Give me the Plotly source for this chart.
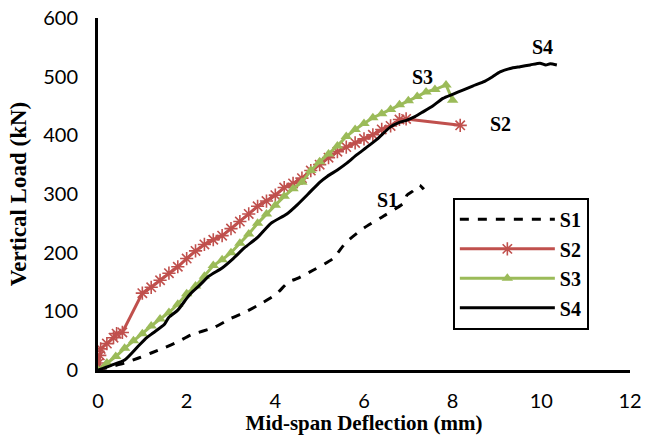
import plotly.graph_objects as go

# ---- data ----
s1_x = [0, 0.3, 0.6, 0.9, 1.2, 1.5, 1.8, 2.1, 2.6, 3.0, 3.3, 3.6, 4.0, 4.3, 4.5, 4.85, 5.3, 5.6, 6.0, 6.5, 6.9, 6.97, 7.1, 7.25, 7.35]
s1_y = [0, 6, 12, 20, 29, 38, 48, 60, 72, 88, 98, 110, 128, 150, 156, 170, 190, 218, 242, 265, 285, 298, 305, 315, 308]

s2_x = [0, 0.02, 0.04, 0.06, 0.2, 0.35, 0.42, 0.55, 1.0, 1.2, 1.4, 1.6, 1.8, 2.0, 2.2, 2.4, 2.6, 2.8, 3.0, 3.2, 3.4, 3.6,
        3.8, 4.0, 4.2, 4.4, 4.6, 4.8, 5.0, 5.2, 5.4, 5.6, 5.8, 6.0, 6.2, 6.4, 6.6, 6.8, 6.95, 8.17]
s2_y = [0, 12, 25, 36, 45, 55, 62, 64, 131, 141, 153, 165, 176, 190, 203, 214, 222, 229, 241, 253, 266, 279,
        288, 298, 311, 318, 327, 340, 350, 362, 372, 380, 387, 394, 401, 410, 416, 427, 428, 417]

s3_x = [0, 0.2, 0.4, 0.6, 0.8, 1.0, 1.2, 1.4, 1.6, 1.8, 2.0, 2.2, 2.4, 2.6, 2.8, 3.0, 3.2, 3.4, 3.6, 3.8, 4.0,
        4.2, 4.4, 4.6, 4.8, 5.0, 5.2, 5.4, 5.6, 5.8, 6.0, 6.2, 6.4, 6.6, 6.8, 7.0, 7.2, 7.4, 7.6, 7.85, 8.0]
s3_y = [0, 12, 23, 37, 50, 62, 75, 87, 98, 112, 130, 143, 160, 178, 188, 200, 216, 232, 250, 266, 281,
        296, 309, 320, 340, 355, 368, 382, 398, 410, 420, 430, 437, 444, 452, 459, 466, 474, 478, 486, 460]

s4_x = [0, 0.3, 0.6, 0.9, 1.1, 1.24, 1.5, 1.6, 1.8, 2.0, 2.1, 2.3, 2.5, 2.8, 3.05, 3.3, 3.6, 3.9, 4.26, 4.5, 4.74,
        5.0, 5.17, 5.4, 5.62, 5.84, 6.05, 6.29, 6.59, 6.8, 6.97, 7.15, 7.33, 7.55, 7.78, 8.0, 8.23, 8.45, 8.69,
        8.9, 9.07, 9.3, 9.52, 9.75, 9.97, 10.1, 10.2, 10.35]
s4_y = [0, 8, 17, 40, 55, 63, 78, 90, 102, 122, 131, 145, 160, 174, 190, 208, 226, 250, 266, 282, 300,
        320, 330, 341, 353, 367, 379, 393, 414, 422, 426, 432, 440, 450, 463, 470, 477, 484, 491,
        500, 508, 514, 517, 520, 523, 520, 522, 520]

x_ticks = [0, 2, 4, 6, 8, 10, 12]
y_ticks = [0, 100, 200, 300, 400, 500, 600]

labels = ["S1", "S2", "S3", "S4"]
label_x = [6.54, 9.09, 7.33, 10.02]
label_y = [290, 419, 499, 551]

RED = "#C0504D"
GREEN = "#9BBB59"
SERIF = "Liberation Serif"

fig = go.Figure()
fig.add_trace(go.Scatter(x=s1_x, y=s1_y, name="S1", mode="lines", legendgroup="g1",
                         line=dict(color="black", width=3, dash="dash", shape="spline", smoothing=0.6)))
fig.add_trace(go.Scatter(x=s2_x, y=s2_y, name="S2", mode="lines+markers", legendgroup="g2",
                         line=dict(color=RED, width=3),
                         marker=dict(symbol="asterisk-open", size=11, color=RED,
                                     line=dict(color=RED, width=1.6))))
fig.add_trace(go.Scatter(x=s3_x, y=s3_y, name="S3", mode="lines+markers", legendgroup="g3",
                         line=dict(color=GREEN, width=3),
                         marker=dict(symbol="triangle-up", size=10, color=GREEN)))
fig.add_trace(go.Scatter(x=s4_x, y=s4_y, name="S4", mode="lines", legendgroup="g4",
                         line=dict(color="black", width=3, shape="spline", smoothing=0.6)))

for t, lx, ly in zip(labels, label_x, label_y):
    fig.add_annotation(x=lx, y=ly, text=t, showarrow=False,
                       font=dict(family=SERIF, size=20, color="black", weight="bold"))

fig.update_layout(
    width=660, height=435,
    margin=dict(l=98, r=30, t=18, b=65),
    plot_bgcolor="white", paper_bgcolor="white",
    showlegend=True,
    legend=dict(x=0.667, y=0.489, xanchor="left", yanchor="top",
                bgcolor="white", bordercolor="black", borderwidth=2,
                font=dict(family=SERIF, size=20, color="black", weight="bold"),
                tracegroupgap=0.5, itemwidth=95),
    xaxis=dict(range=[0, 12], tickvals=x_ticks, ticktext=[str(v) for v in x_ticks],
               showgrid=False, zeroline=False, showline=True, linecolor="black", linewidth=3,
               ticks="", ticklabelstandoff=11, automargin=False,
               tickfont=dict(family="Lato", size=20, color="black"),
               title=dict(text="Mid-span Deflection (mm)", standoff=2,
                          font=dict(family=SERIF, size=21, color="black", weight="bold"))),
    yaxis=dict(range=[0, 600], tickvals=y_ticks, ticktext=[str(v) for v in y_ticks],
               showgrid=False, zeroline=False, showline=True, linecolor="black", linewidth=3,
               ticks="", ticklabelstandoff=13, automargin=False,
               tickfont=dict(family="Lato", size=20, color="black"),
               title=dict(text="Vertical Load (kN)", standoff=11,
                          font=dict(family=SERIF, size=23, color="black", weight="bold"))),
)

fig.write_html("out.html")
